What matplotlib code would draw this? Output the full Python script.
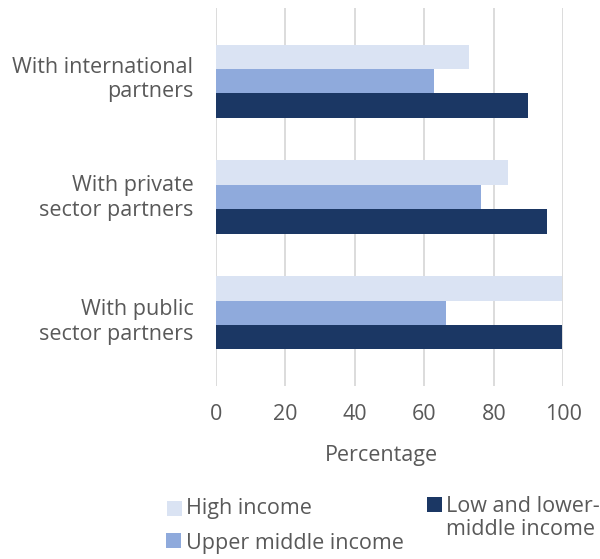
import matplotlib
matplotlib.use("Agg")
import matplotlib.pyplot as plt
import matplotlib.transforms as mtransforms
from matplotlib.patches import Rectangle
import numpy as np

categories = ["With international\npartners", "With private\nsector partners", "With public\nsector partners"]
series_names = ["High income", "Upper middle income", "Low and lower-\nmiddle income"]
high_income = [72.8, 84.0, 99.6]
upper_middle_income = [62.9, 76.3, 66.3]
low_lower_middle_income = [89.8, 95.4, 99.6]
x_ticks = [0, 20, 40, 60, 80, 100]
x_label = "Percentage"

colors = ["#DAE3F3", "#8FAADC", "#1B3764"]
text_color = "#595959"
grid_color = "#D9D9D9"
font = "Open Sans"
fs = 15.5

plt.rcParams["font.family"] = [font, "DejaVu Sans"]

fig = plt.figure(figsize=(6.0, 5.59), dpi=100)
ax = fig.add_axes([0.3595, 0.3095, 0.5793, 0.6762])

y = np.arange(len(categories))
h = 0.21
values = [high_income, upper_middle_income, low_lower_middle_income]
offsets = [-h, 0, h]
for vals, off, col, name in zip(values, offsets, colors, series_names):
    ax.barh(y + off, vals, height=h, color=col, edgecolor="none", label=name, zorder=2)

ax.set_xlim(0, 100)
ax.set_ylim(2.63, -0.63)
ax.set_xticks(x_ticks)
ax.set_xticklabels([str(t) for t in x_ticks])
ax.set_yticks(y)
ax.set_yticklabels(categories, ha="right", multialignment="right", linespacing=1.2)
ax.tick_params(axis="both", length=0, labelsize=fs, labelcolor=text_color)
ax.tick_params(axis="x", pad=13)
ax.tick_params(axis="y", pad=16)
ax.grid(axis="x", color=grid_color, linewidth=1.3, zorder=0)
for s in ax.spines.values():
    s.set_visible(False)
ax.set_xlabel(x_label, fontsize=fs, color=text_color)
ax.xaxis.set_label_coords(0.4776, -0.155)

# nudge category labels slightly (in points)
nudges = [4.3, 2.2, -3.6]
for lab, dy in zip(ax.get_yticklabels(), nudges):
    lab.set_transform(lab.get_transform() +
                      mtransforms.ScaledTranslation(0, dy / 72, fig.dpi_scale_trans))

# Legend drawn as figure-level swatches and labels
W, H = 600, 559
legend_items = [
    (166.5, 508.5, 186.5, 508.5),
    (166.0, 540.5, 186.0, 543.0),
    (427.0, 504.0, 446.0, 518.0),
]
sq = 15
for (sx, sy, tx, ty), col, name in zip(legend_items, colors, series_names):
    fig.patches.append(Rectangle((sx / W, 1 - (sy + sq / 2) / H), sq / W, sq / H,
                                 transform=fig.transFigure, facecolor=col,
                                 edgecolor="none", figure=fig))
    fig.text(tx / W, 1 - ty / H, name, fontsize=fs, color=text_color,
             ha="left", va="center", linespacing=1.12)

fig.savefig("out.png", dpi=100, facecolor="white")
